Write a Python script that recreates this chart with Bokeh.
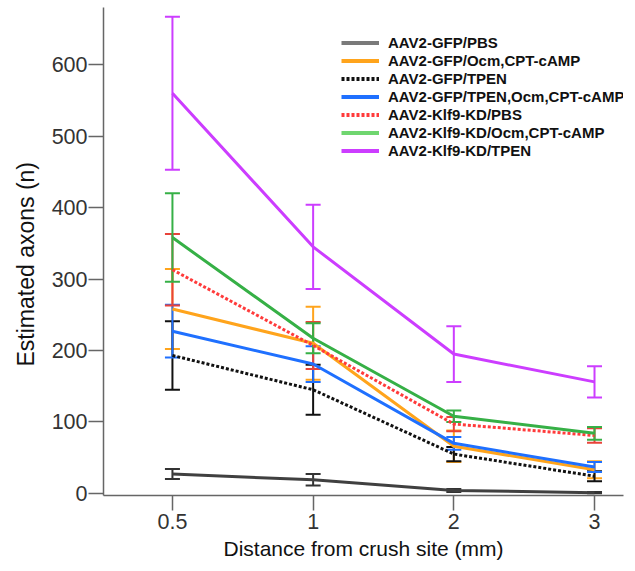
from bokeh.plotting import figure
from bokeh.models import (ColumnDataSource, Whisker, TeeHead, Legend, LegendItem,
                          FixedTicker, Range1d, Title)
from bokeh.embed import file_html
from bokeh.resources import INLINE

# ---- data ----
distance_labels = ["0.5", "1", "2", "3"]
y_ticks = [0, 100, 200, 300, 400, 500, 600]

series_names = [
    "AAV2-GFP/PBS",
    "AAV2-GFP/Ocm,CPT-cAMP",
    "AAV2-GFP/TPEN",
    "AAV2-GFP/TPEN,Ocm,CPT-cAMP",
    "AAV2-Klf9-KD/PBS",
    "AAV2-Klf9-KD/Ocm,CPT-cAMP",
    "AAV2-Klf9-KD/TPEN",
]
gfp_pbs_mean = [27, 19, 4, 1]
gfp_pbs_sem = [7, 8, 2, 1]
gfp_ocm_mean = [258, 210, 66, 33]
gfp_ocm_sem = [56, 51, 22, 12]
gfp_tpen_mean = [193, 145, 55, 24]
gfp_tpen_sem = [48, 35, 10, 7]
gfp_tpen_ocm_mean = [227, 181, 70, 37]
gfp_tpen_ocm_sem = [37, 25, 9, 7]
klf9_pbs_mean = [313, 207, 97, 81]
klf9_pbs_sem = [50, 33, 10, 10]
klf9_ocm_mean = [358, 217, 108, 84]
klf9_ocm_sem = [62, 21, 8, 9]
klf9_tpen_mean = [560, 345, 195, 156]
klf9_tpen_sem = [107, 59, 39, 22]

means = [gfp_pbs_mean, gfp_ocm_mean, gfp_tpen_mean, gfp_tpen_ocm_mean,
         klf9_pbs_mean, klf9_ocm_mean, klf9_tpen_mean]
sems = [gfp_pbs_sem, gfp_ocm_sem, gfp_tpen_sem, gfp_tpen_ocm_sem,
        klf9_pbs_sem, klf9_ocm_sem, klf9_tpen_sem]

# ---- styles ----
line_colors = ["#404040", "#ffa41c", "#111111", "#1f70ff", "#ff3b3b", "#36b046", "#cc3dff"]
bar_colors = ["#333333", "#ffa41c", "#111111", "#1f70ff", "#e8433a", "#36b046", "#cc3dff"]
legend_colors = ["#7a7a7a", "#ffa41c", "#111111", "#1f70ff", "#ff3b3b", "#6fd66f", "#cc3dff"]
dashes = ["solid", "solid", "3 2", "solid", "3 2", "solid", "solid"]

FONT = "Liberation Sans"
x_idx = list(range(len(distance_labels)))
NAN = float("nan")

p = figure(width=635, height=571,
           x_range=Range1d(-0.49, 3.206), y_range=Range1d(-3, 680),
           output_backend="svg", toolbar_location=None,
           min_border_left=103, min_border_right=12, min_border_top=7,
           min_border_bottom=76)
p.background_fill_color = "white"
p.border_fill_color = "white"
p.outline_line_color = None
p.xgrid.visible = False
p.ygrid.visible = False

legend_items = []
for name, m, s, lc, bc, lgc, d in zip(series_names, means, sems, line_colors,
                                      bar_colors, legend_colors, dashes):
    src = ColumnDataSource(dict(x=x_idx, y=m,
                                upper=[a + b for a, b in zip(m, s)],
                                lower=[a - b for a, b in zip(m, s)]))
    p.line("x", "y", source=src, line_color=lc, line_width=3, line_dash=d)
    w = Whisker(source=src, base="x", upper="upper", lower="lower",
                line_color=bc, line_width=2,
                upper_head=TeeHead(size=15, line_color=bc, line_width=2),
                lower_head=TeeHead(size=15, line_color=bc, line_width=2))
    p.add_layout(w)
    # legend-only glyph (no visible data)
    dummy = p.line([NAN], [NAN], line_color=lgc, line_width=4, line_dash=d)
    legend_items.append(LegendItem(label=name, renderers=[dummy]))

legend = Legend(items=legend_items, location=(238, 336))
legend.label_text_font = FONT
legend.label_text_font_style = "bold"
legend.label_text_font_size = "15px"
legend.label_text_color = "#111111"
legend.glyph_width = 38
legend.glyph_height = 17
legend.label_height = 17
legend.spacing = 1
legend.padding = 0
legend.margin = 0
legend.label_standoff = 9
legend.border_line_alpha = 0
legend.background_fill_alpha = 0
p.add_layout(legend)

# axes
p.xaxis.ticker = FixedTicker(ticks=x_idx)
p.xaxis.major_label_overrides = {i: lab for i, lab in zip(x_idx, distance_labels)}
p.yaxis.ticker = FixedTicker(ticks=y_ticks)
for ax in (p.xaxis[0], p.yaxis[0]):
    ax.axis_line_color = "#666666"
    ax.axis_line_width = 1.5
    ax.major_tick_line_color = "#666666"
    ax.major_tick_line_width = 1.5
    ax.major_tick_out = 15
    ax.major_tick_in = 0
    ax.minor_tick_out = 0
    ax.minor_tick_in = 0
    ax.major_label_text_font = FONT
    ax.major_label_text_font_size = "21.5px"
    ax.major_label_text_color = "#333333"
    ax.axis_label_text_font = FONT
    ax.axis_label_text_font_size = "21px"
    ax.axis_label_text_font_style = "normal"
    ax.axis_label_text_color = "#111111"

p.xaxis.axis_label = "Distance from crush site (mm)"
p.xaxis.major_label_standoff = 3
p.xaxis.axis_label_standoff = 5
p.yaxis.major_label_standoff = 1

# y-axis title as a side title (allows shifting along the axis)
ytitle = Title(text="Estimated axons (n)", align="left", offset=129,
               text_font=FONT, text_font_size="23px", text_font_style="normal",
               text_color="#111111", standoff=19)
p.add_layout(ytitle, "left")

open("out.html", "w").write(file_html(p, INLINE))
